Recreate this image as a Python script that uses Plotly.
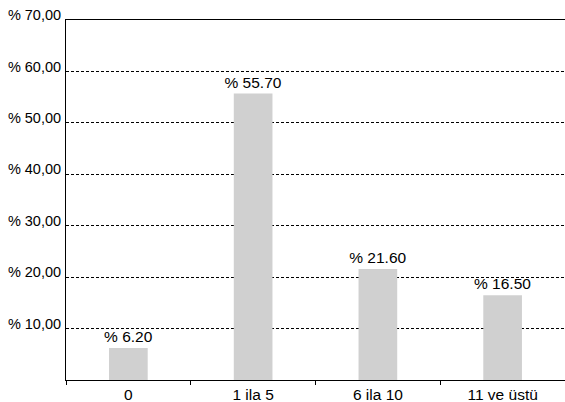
import plotly.graph_objects as go

categories = ["0", "1 ila 5", "6 ila 10", "11 ve üstü"]
values = [6.20, 55.70, 21.60, 16.50]
value_labels = ["% 6.20", "% 55.70", "% 21.60", "% 16.50"]
y_tickvals = [10, 20, 30, 40, 50, 60, 70]
y_ticktext = ["% 10,00", "% 20,00", "% 30,00", "% 40,00", "% 50,00", "% 60,00", "% 70,00"]

fig = go.Figure(go.Bar(
    x=categories, y=values, text=value_labels, textposition="outside",
    textfont=dict(size=15.5, color="black"), cliponaxis=False,
    constraintext="none", width=0.31,
    marker=dict(color="#d0d0d0", line=dict(width=0)),
))

fig.update_layout(
    width=565, height=402,
    margin=dict(l=66, r=0, t=20, b=22),
    paper_bgcolor="white", plot_bgcolor="white",
    font=dict(family="Liberation Sans, Arial, sans-serif", size=14, color="black"),
    showlegend=False,
)
fig.update_xaxes(
    showline=True, linecolor="black", linewidth=1, mirror=True,
    ticks="outside", tickson="boundaries", ticklen=4, tickcolor="black",
    showgrid=False, tickfont=dict(size=15.5), automargin=False,
)
fig.update_yaxes(
    range=[0, 70], tickvals=y_tickvals, ticktext=y_ticktext,
    showline=True, linecolor="black", linewidth=1,
    showgrid=True, gridcolor="black", gridwidth=1, griddash="3px,2px",
    ticks="", ticklabelshift=-5, ticklabelstandoff=1, zeroline=False,
    ticklabeloverflow="allow",
    tickfont=dict(size=14.5), automargin=False,
)

fig.write_html(
    "out.html",
    config={"displayModeBar": False},
    post_script="document.body.style.margin='0';document.documentElement.style.margin='0';",
)
